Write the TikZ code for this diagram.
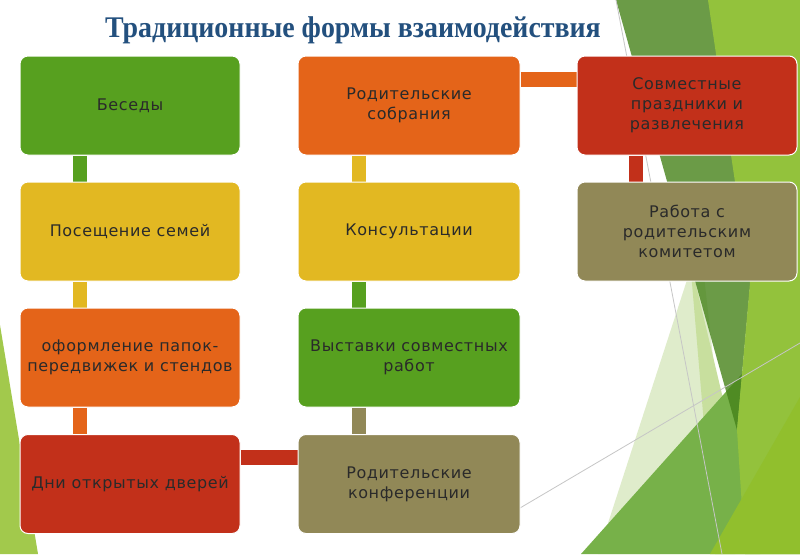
\documentclass[tikz,border=0pt]{standalone}
\usepackage{fontspec}
\setmainfont{DejaVu Sans}
\newfontfamily\boxfont{DejaVu Sans}[LetterSpace=4]
\newfontfamily\titlefont{Liberation Serif}[FakeStretch=0.93]
\definecolor{cgreen}{HTML}{57A01F}
\definecolor{cyellow}{HTML}{E2B822}
\definecolor{corange}{HTML}{E46419}
\definecolor{cred}{HTML}{C2301A}
\definecolor{colive}{HTML}{918857}
\definecolor{ctext}{HTML}{2A2A2A}
\definecolor{ctitle}{HTML}{23507E}
\definecolor{bgleft}{HTML}{A2C94C}
\definecolor{bgpale}{HTML}{DFECCB}
\definecolor{bglight}{HTML}{C8DF9E}
\definecolor{bgmid}{HTML}{77B149}
\definecolor{bgdark}{HTML}{46821A}
\definecolor{bgbright}{HTML}{93C23C}
\definecolor{bgbright2}{HTML}{91BF2D}
\definecolor{bgline}{HTML}{C6C6C6}
\pgfdeclarelayer{bg}
\pgfdeclarelayer{conn}
\pgfsetlayers{bg,conn,main}
\begin{document}
\begin{tikzpicture}[x=1pt,y=-1pt,
  box/.style={rectangle, rounded corners=8pt, draw=white, line width=1pt,
    minimum width=220pt, minimum height=99pt, inner sep=2pt,
    align=center, text=ctext, font=\boxfont\fontsize{16}{20}\selectfont},
  link/.style={line width=14.5pt},
  titlestyle/.style={text=ctitle, font=\titlefont\bfseries\fontsize{30}{32}\selectfont, inner sep=0pt}
]
\useasboundingbox (0,0) rectangle (800,554);

% background facets
\begin{pgfonlayer}{bg}
\fill[white] (0,0) rectangle (800,554);
\fill[bgleft] (0,325) -- (0,554) -- (38,554) -- cycle;
\fill[bgpale] (700,240) -- (598,554) -- (735,554) -- cycle;
\fill[bglight] (690,260) -- (760,554) -- (715,554) -- cycle;
\fill[bgmid] (581,554) -- (800,309) -- (800,554) -- cycle;
\fill[bgdark, opacity=0.8] (616,0) -- (776,0) -- (737,430) -- cycle;
\fill[bgbright] (708,0) -- (800,0) -- (800,554) -- (745,554) -- (737,430) -- (750,283) -- cycle;
\fill[bgbright2] (710,554) -- (800,397) -- (800,554) -- cycle;
\draw[bgline, line width=0.8pt] (616,0) -- (722,554);
\draw[bgline, line width=0.8pt] (520,508) -- (800,343);
\end{pgfonlayer}

% title
\node[titlestyle, anchor=base] (title) at (353,37) {Традиционные формы взаимодействия};

% boxes
\node[box, fill=cgreen]  (b11) at (130,105.5) {Беседы};
\node[box, fill=cyellow] (b12) at (130,231.5) {Посещение семей};
\node[box, fill=corange] (b13) at (130,357.5) {оформление папок-\\передвижек и стендов};
\node[box, fill=cred]    (b14) at (130,484)   {Дни открытых дверей};

\node[box, fill=corange, minimum width=222pt] (b21) at (409,105.5) {Родительские\\собрания};
\node[box, fill=cyellow, minimum width=222pt] (b22) at (409,231.5) {Консультации};
\node[box, fill=cgreen,  minimum width=222pt] (b23) at (409,357.5) {Выставки совместных\\работ};
\node[box, fill=colive,  minimum width=222pt] (b24) at (409,484)   {Родительские\\конференции};

\node[box, fill=cred]   (b31) at (687,105.5) {Совместные\\праздники и\\развлечения};
\node[box, fill=colive] (b32) at (687,231.5) {Работа с\\родительским\\комитетом};

% connectors
\begin{pgfonlayer}{conn}
\draw[link, cgreen]  ([xshift=-50pt]b11.south) -- ([xshift=-50pt]b12.north);
\draw[link, cyellow] ([xshift=-50pt]b12.south) -- ([xshift=-50pt]b13.north);
\draw[link, corange] ([xshift=-50pt]b13.south) -- ([xshift=-50pt]b14.north);
\draw[link, cred]    ([yshift=26.5pt]b14.east) -- ([yshift=26.5pt]b24.west);
\draw[link, colive]  ([xshift=-50pt]b24.north) -- ([xshift=-50pt]b23.south);
\draw[link, cgreen]  ([xshift=-50pt]b23.north) -- ([xshift=-50pt]b22.south);
\draw[link, cyellow] ([xshift=-50pt]b22.north) -- ([xshift=-50pt]b21.south);
\draw[link, corange] ([yshift=26pt]b21.east) -- ([yshift=26pt]b31.west);
\draw[link, cred]    ([xshift=-51pt]b31.south) -- ([xshift=-51pt]b32.north);
\end{pgfonlayer}
\end{tikzpicture}
\end{document}
